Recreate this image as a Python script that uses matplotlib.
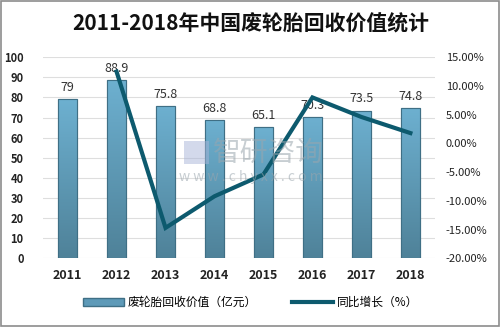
import matplotlib
matplotlib.use("Agg")
import matplotlib.pyplot as plt
import numpy as np
from matplotlib.lines import Line2D
from matplotlib.patches import Patch, Rectangle

plt.rcParams['font.family'] = ['Noto Sans CJK SC', 'DejaVu Sans']

years = ['2011', '2012', '2013', '2014', '2015', '2016', '2017', '2018']
value = [79, 88.9, 75.8, 68.8, 65.1, 70.3, 73.5, 74.8]
growth_years = ['2012', '2013', '2014', '2015', '2016', '2017', '2018']
growth = [12.5, -14.7, -9.2, -5.4, 8.0, 4.6, 1.8]

fig = plt.figure(figsize=(5.01, 3.27), dpi=100)
fig.patches.append(Rectangle((0.002, 0.003), 0.995, 0.993, transform=fig.transFigure,
                             fill=False, edgecolor='#8c8c8c', linewidth=1.2))
ax = fig.add_axes([0.086, 0.21, 0.782, 0.615])
ax2 = ax.twinx()

x = np.arange(len(years))
bars = ax.bar(x, value, width=0.4, color='#5e9ab8', edgecolor='#3f6f85', linewidth=0.8, zorder=2)

# vertical gradient inside each bar
grad = np.linspace(0, 1, 100).reshape(-1, 1)
cmap = matplotlib.colors.LinearSegmentedColormap.from_list('g', ['#4f8299', '#6db0d0'])
for b in bars:
    bx, by, bw, bh = b.get_x(), b.get_y(), b.get_width(), b.get_height()
    im = ax.imshow(grad, cmap=cmap, extent=[bx, bx + bw, by, by + bh], aspect='auto',
                   origin='lower', zorder=2.5)
    im.set_clip_path(b)
    ax.add_patch(Rectangle((bx, by), bw, bh, fill=False, edgecolor='#3f6f85', linewidth=0.8, zorder=3))

for xi, v in zip(x, value):
    ax.text(xi, v + 2.5, f'{v:g}', ha='center', va='bottom', fontsize=9, color='#333333', zorder=5)

ax.set_xlim(-0.5, len(years) - 0.5)
ax.set_ylim(0, 100)
ax.set_yticks(range(0, 101, 10))
ax.set_xticks(x)
ax.set_xticklabels(years, fontsize=9, fontweight='bold', color='#222222')
ax.tick_params(axis='y', labelsize=8, length=0, pad=14, labelcolor='#222222')
ax.tick_params(axis='x', length=0, pad=8)
ax.grid(axis='y', color='#dedede', linewidth=0.8, zorder=0)
ax.set_axisbelow(True)
for s in ax.spines.values():
    s.set_visible(False)
for lbl in ax.get_yticklabels():
    lbl.set_fontweight('bold')

gx = [years.index(y) for y in growth_years]
ax2.plot(gx, growth, color='#0d5a6e', linewidth=3, zorder=6, solid_joinstyle='miter')
ax2.set_ylim(-20, 15)
ax2.set_yticks(range(-20, 16, 5))
ax2.set_yticklabels([f'{t:.2f}%' for t in range(-20, 16, 5)])
ax2.tick_params(axis='y', labelsize=8, length=0, pad=8, labelcolor='#222222')
for s in ax2.spines.values():
    s.set_visible(False)
ax2.set_zorder(ax.get_zorder() + 1)
ax2.patch.set_visible(False)

# watermark
fig.text(0.535, 0.532, '智研咨询', fontsize=20, color='#9aa6ae', alpha=0.55, ha='center', va='center', zorder=10)
fig.text(0.5, 0.459, 'w w w . c h y x x . c o m', fontsize=10, color='#9aa6ae', alpha=0.55,
         ha='center', va='center', zorder=10)
fig.patches.append(Rectangle((0.367, 0.50), 0.05, 0.07, transform=fig.transFigure,
                             facecolor='#a8b4d8', alpha=0.5, edgecolor='none', zorder=10))

fig.text(0.5, 0.925, '2011-2018年中国废轮胎回收价值统计', fontsize=15, fontweight='bold',
         ha='center', va='center', color='#111111')

handles = [Patch(facecolor='#5e9ab8', edgecolor='#3f6f85'),
           Line2D([0], [0], color='#0d5a6e', linewidth=3)]
fig.legend(handles, ['废轮胎回收价值（亿元）', '同比增长（%）'], loc='center', bbox_to_anchor=(0.5, 0.075),
           ncol=2, frameon=False, fontsize=8.5, handlelength=3.5, columnspacing=3, handletextpad=0.3)

fig.savefig('out.png', dpi=100)
